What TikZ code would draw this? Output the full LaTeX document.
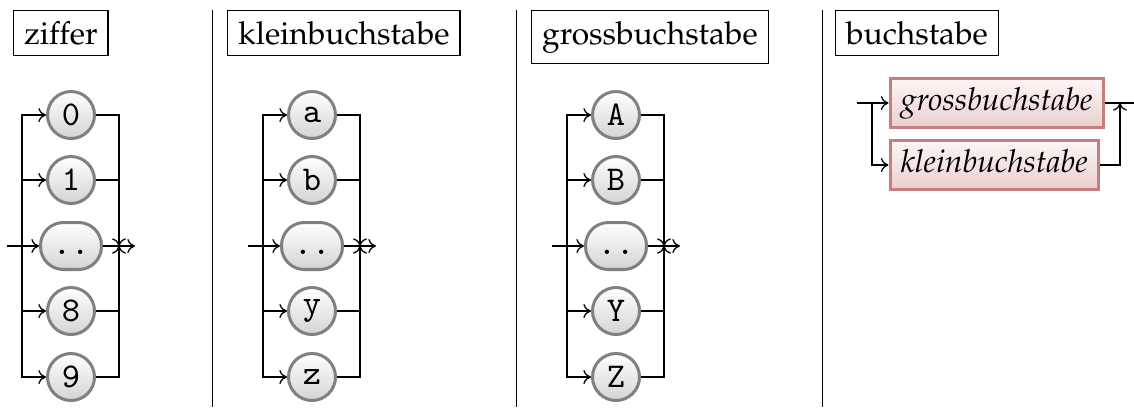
\documentclass[tikz,border=0pt]{standalone}
\usepackage[T1]{fontenc}
\usepackage{mathpazo}
\usetikzlibrary{arrows.meta,positioning}
\newcommand{\termfont}{\fontencoding{OT1}\fontfamily{cmtt}\fontsize{10.8}{12}\selectfont}
\definecolor{termline}{HTML}{808080}
\definecolor{ntline}{HTML}{C47E7E}
\definecolor{nttop}{HTML}{FDF6F6}
\definecolor{ntbot}{HTML}{EACFCF}
\tikzset{
  title/.style={draw,thin,inner sep=3.3pt,font=\normalsize},
  term/.style={circle,draw=termline,line width=0.95pt,top color=white,bottom color=black!17,
     minimum size=14.8pt,inner sep=0pt,font=\termfont},
  termwide/.style={rectangle,rounded corners=7.2pt,draw=termline,line width=0.95pt,top color=white,bottom color=black!17,
     minimum width=19.2pt,minimum height=14.8pt,inner sep=0pt,text height=5.2pt,text depth=0pt,font=\termfont},
  nonterm/.style={rectangle,draw=ntline,line width=0.95pt,top color=nttop,bottom color=ntbot,
     inner xsep=3.4pt,inner ysep=2.9pt,text height=7.4pt,text depth=2.4pt,font=\itshape},
  conn/.style={thin,black},
  arr/.style={thin,black,-{To[length=2.4pt,width=4.4pt]}},
  sep/.style={thin,black},
}
\begin{document}
\begin{tikzpicture}[x=0.315pt,y=-0.315pt]
\useasboundingbox (0,0) rectangle (1134,407);
% separators
\coordinate (s1t) at (212.5,10); \coordinate (s1b) at (212.5,407);
\coordinate (s2t) at (516.5,10); \coordinate (s2b) at (516.5,407);
\coordinate (s3t) at (822.5,10); \coordinate (s3b) at (822.5,407);
\draw[sep] (s1t) -- (s1b);
\draw[sep] (s2t) -- (s2b);
\draw[sep] (s3t) -- (s3b);
% titles
\node[title,anchor=north west] (t1) at (13,10) {ziffer};
\node[title,anchor=north west] (t2) at (227,10) {kleinbuchstabe};
\node[title,anchor=north west] (t3) at (531,10) {grossbuchstabe};
\node[title,anchor=north west] (t4) at (835,10) {buchstabe};
% choice panels
\foreach \p/\ox/\la/\lb/\lm/\lc/\ld in {A/0/0/1/../8/9, B/241/a/b/../y/z, C/545/A/B/../Y/Z}{
  \coordinate (\p in) at (7+\ox,246);
  \coordinate (\p L) at (22+\ox,246);
  \coordinate (\p R) at (119+\ox,246);
  \coordinate (\p out) at (135+\ox,246);
  \node[term] (\p0) at (71+\ox,115) {\la};
  \node[term] (\p1) at (71+\ox,180) {\lb};
  \node[termwide] (\p2) at (71+\ox,246) {\lm};
  \node[term] (\p3) at (71+\ox,311) {\lc};
  \node[term] (\p4) at (71+\ox,377) {\ld};
  \draw[arr] (\p in) -- (\p2);
  \draw[arr] (\p L) |- (\p0);
  \draw[arr] (\p L) |- (\p1);
  \draw[arr] (\p L) |- (\p3);
  \draw[arr] (\p L) |- (\p4);
  \draw[arr] (\p0) -| (\p R);
  \draw[conn] (\p1) -| (\p R);
  \draw[conn] (\p3) -| (\p R);
  \draw[arr] (\p4) -| (\p R);
  \draw[arr] (\p2) -- (\p out);
}
% buchstabe
\node[nonterm,anchor=west] (g) at (888.5,103) {grossbuchstabe};
\node[nonterm,anchor=west] (k) at (888.5,165) {kleinbuchstabe};
\coordinate (bin) at (857,103);
\coordinate (bsplit) at (872,103);
\coordinate (bjoin) at (1120,103);
\coordinate (bout) at (1134,103);
\draw[arr] (bin) -- (g);
\draw[arr] (bsplit) |- (k);
\draw[conn] (g) -- (bout);
\draw[arr] (k) -| (bjoin);
\end{tikzpicture}
\end{document}
